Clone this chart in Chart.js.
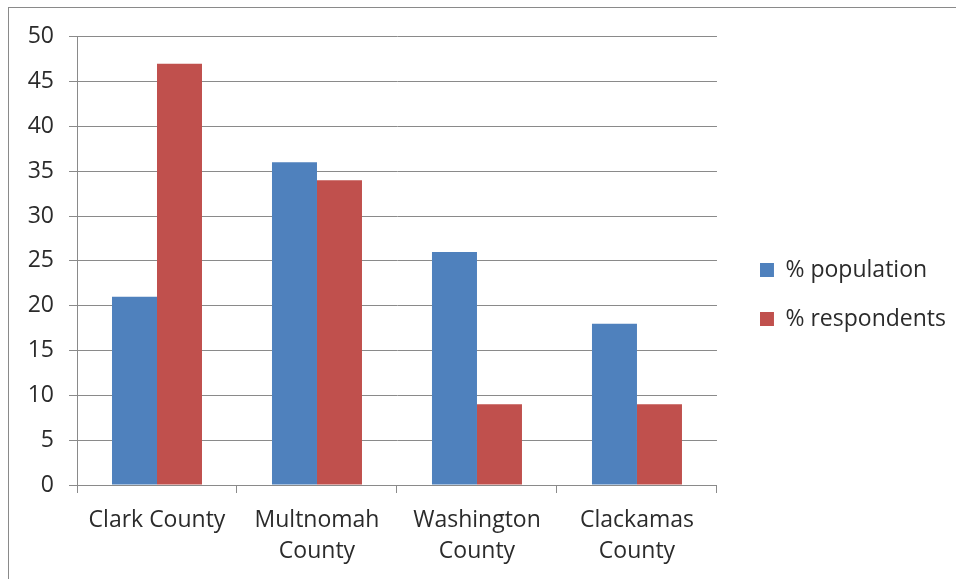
<!DOCTYPE html>
<html lang="en">
<head>
    <meta charset="UTF-8">
    <title>County share</title>
    <style>
        body { margin: 0; background: #fff; }
        #frame {
            position: absolute; left: 8px; top: 7px;
            width: 980px; height: 600px;
            border: 1px solid #8a8a8a;
        }
        #myChart { display: block; }
    </style>
</head>
<body>
    <div id="frame">
        <canvas id="myChart" width="947" height="571"></canvas>
    </div>

    <script src="https://cdn.jsdelivr.net/npm/chart.js"></script>
    <script>
        // values
        var counties = [['Clark County'], ['Multnomah', 'County'], ['Washington', 'County'], ['Clackamas', 'County']];
        var populationPct = [21, 36, 26, 18];
        var respondentsPct = [47, 34, 9, 9];
        var yTicks = [0, 5, 10, 15, 20, 25, 30, 35, 40, 45, 50];

        var textColor = '#2b2b2b';
        var lineColor = '#8a8a8a';
        var font = { family: "'Open Sans', sans-serif", size: 23 };

        // legend sits a bit further right / higher than chart.js puts it
        var legendNudge = {
            id: 'legendNudge',
            afterLayout: function(chart) {
                var lg = chart.legend;
                lg.left += 17;
                lg.right += 17;
                lg.top -= 13;
                lg.bottom -= 13;
            }
        };

        const ctx = document.getElementById('myChart');
        const myChart = new Chart(ctx, {
            type: 'bar',
            data: {
                labels: counties,
                datasets: [{
                    label: '% population',
                    data: populationPct,
                    backgroundColor: '#4f81bd'
                }, {
                    label: '% respondents',
                    data: respondentsPct,
                    backgroundColor: '#c0504d'
                }]
            },
            plugins: [legendNudge],
            options: {
                responsive: false,
                animation: false,
                layout: { padding: { top: 28, right: 17, bottom: 0, left: 0 } },
                datasets: {
                    bar: { categoryPercentage: 0.5625, barPercentage: 1.0 }
                },
                plugins: {
                    tooltip: { enabled: false },
                    legend: {
                        position: 'right',
                        labels: {
                            boxWidth: 14,
                            boxHeight: 14,
                            padding: 26,
                            color: textColor,
                            font: font
                        }
                    }
                },
                scales: {
                    x: {
                        grid: { drawOnChartArea: false, color: lineColor, tickLength: 8 },
                        border: { color: lineColor },
                        ticks: { color: textColor, font: Object.assign({ lineHeight: 1.35 }, font), padding: 12, maxRotation: 0 },
                        afterFit: function(scale) { scale.height = 94; }
                    },
                    y: {
                        min: 0,
                        max: 50,
                        afterBuildTicks: function(scale) {
                            scale.ticks = yTicks.map(function(v) { return { value: v }; });
                        },
                        grid: { color: lineColor, tickLength: 8 },
                        border: { color: lineColor },
                        ticks: { color: textColor, font: font, padding: 15 },
                        afterFit: function(scale) { scale.width = 68; }
                    }
                }
            }
        });
    </script>
</body>
</html>
